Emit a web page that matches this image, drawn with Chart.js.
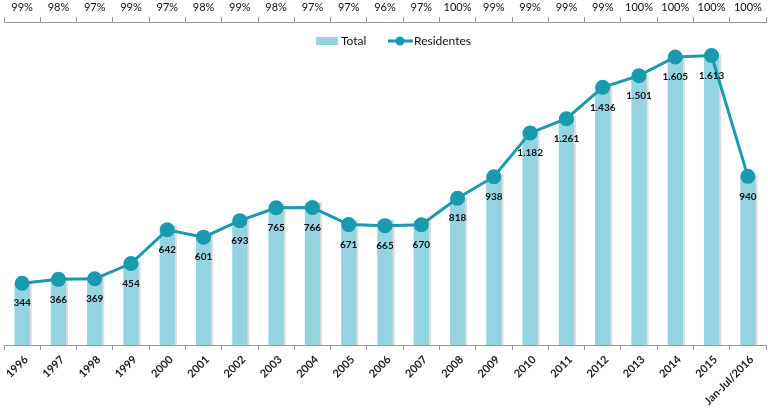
<!DOCTYPE html>
<html>
<head>
<meta charset="utf-8">
<script src="https://cdn.jsdelivr.net/npm/chart.js@4"></script>
<style>
  html, body { margin: 0; padding: 0; background: #fff; }
  #wrap { width: 768px; height: 412px; }
</style>
</head>
<body>
<div id="wrap"><canvas id="chart" width="768" height="412"></canvas></div>
<script>
// Categories and series
const years = ["1996", "1997", "1998", "1999", "2000", "2001", "2002", "2003", "2004", "2005", "2006",
    "2007", "2008", "2009", "2010", "2011", "2012", "2013", "2014", "2015", "Jan-Jul/2016"];
const total = [347, 373, 380, 459, 662, 613, 700, 781, 790, 692, 693, 691, 818, 947, 1194, 1274, 1451, 1501, 1605, 1613, 940];
const residentes = [344, 366, 369, 454, 642, 601, 693, 765, 766, 671, 665, 670, 818, 938, 1182, 1261, 1436, 1501, 1605, 1613, 940];
const shares = ["99%", "98%", "97%", "99%", "97%", "98%", "99%", "98%", "97%", "97%", "96%",
    "97%", "100%", "99%", "99%", "99%", "99%", "100%", "100%", "100%", "100%"];

const barColor = "#93d4e0";
const lineColor = "#1a9aae";
const font = "Lato, 'Open Sans', sans-serif";

// Thousands separator with a dot, as in the original
function fmt(v) {
    return String(v).replace(/\B(?=(\d{3})+(?!\d))/g, ".");
}

// Light shadow on the right side of each bar
const barShadow = {
    id: "barShadow",
    beforeDatasetsDraw(chart) {
        const meta = chart.getDatasetMeta(0);
        const ctx = chart.ctx;
        ctx.save();
        ctx.fillStyle = "rgba(200,190,195,0.55)";
        meta.data.forEach(bar => {
            ctx.fillRect(bar.x - bar.width / 2 + 2, bar.y - 1, bar.width, bar.base - bar.y + 1);
        });
        ctx.restore();
    }
};

// Value labels under the line points
const pointLabels = {
    id: "pointLabels",
    afterDatasetsDraw(chart) {
        const meta = chart.getDatasetMeta(1);
        const ctx = chart.ctx;
        ctx.save();
        ctx.font = "bold 10px " + font;
        ctx.fillStyle = "#111";
        ctx.textAlign = "center";
        ctx.textBaseline = "middle";
        meta.data.forEach((pt, i) => {
            ctx.fillText(fmt(residentes[i]), pt.x, pt.y + 20);
        });
        ctx.restore();
    }
};

// Legend sitting inside the plot, under the top axis
const innerLegend = {
    id: "innerLegend",
    afterDraw(chart) {
        const ctx = chart.ctx;
        const y = chart.chartArea.top + 19;
        ctx.save();
        ctx.font = "12px " + font;
        ctx.textBaseline = "middle";
        ctx.textAlign = "left";
        // Total
        ctx.fillStyle = barColor;
        ctx.fillRect(316, y - 4, 22, 8);
        ctx.fillStyle = "#111";
        ctx.fillText(chart.data.datasets[0].label, 341, y);
        // Residentes
        ctx.strokeStyle = lineColor;
        ctx.lineWidth = 3;
        ctx.beginPath(); ctx.moveTo(388, y); ctx.lineTo(413, y); ctx.stroke();
        ctx.fillStyle = lineColor;
        ctx.beginPath(); ctx.arc(400, y, 4.5, 0, Math.PI * 2); ctx.fill();
        ctx.fillStyle = "#111";
        ctx.fillText(chart.data.datasets[1].label, 414, y);
        ctx.restore();
    }
};

function clearPad(s) {
    s.paddingLeft = 0;
    s.paddingRight = 0;
}

const ctx = document.getElementById("chart").getContext("2d");
new Chart(ctx, {
    data: {
        labels: years,
        datasets: [
            {
                type: "bar",
                label: "Total",
                data: total,
                backgroundColor: barColor,
                barPercentage: 0.42,
                categoryPercentage: 1,
                order: 2
            },
            {
                type: "line",
                label: "Residentes",
                data: residentes,
                borderColor: lineColor,
                backgroundColor: lineColor,
                borderWidth: 3,
                pointRadius: 6,
                pointHoverRadius: 6,
                tension: 0,
                order: 1
            }
        ]
    },
    options: {
        responsive: false,
        animation: false,
        layout: { autoPadding: false, padding: { left: 4, right: 2, top: 0, bottom: 0 } },
        plugins: {
            tooltip: { enabled: false },
            legend: { display: false }
        },
        scales: {
            x: {
                type: "category",
                position: "bottom",
                offset: true,
                grid: { drawOnChartArea: false, offset: true, tickLength: 5, color: "#9a9a9a" },
                border: { color: "#9a9a9a" },
                ticks: {
                    autoSkip: false,
                    maxRotation: 45,
                    minRotation: 45,
                    padding: 3,
                    labelOffset: 4,
                    color: "#222",
                    font: { family: font, size: 11, weight: "bold" }
                },
                afterFit(s) { clearPad(s); s.height = 67; }
            },
            x2: {
                type: "category",
                position: "top",
                labels: shares,
                offset: true,
                grid: { drawOnChartArea: false, offset: true, tickLength: 5, color: "#9a9a9a" },
                border: { color: "#9a9a9a" },
                ticks: {
                    autoSkip: false,
                    maxRotation: 0,
                    color: "#111",
                    padding: 3,
                    font: { family: font, size: 11 }
                },
                afterFit(s) { clearPad(s); s.height = 22; }
            },
            y: {
                display: false,
                min: 0,
                max: 1800
            }
        }
    },
    plugins: [barShadow, pointLabels, innerLegend]
});
</script>
</body>
</html>
